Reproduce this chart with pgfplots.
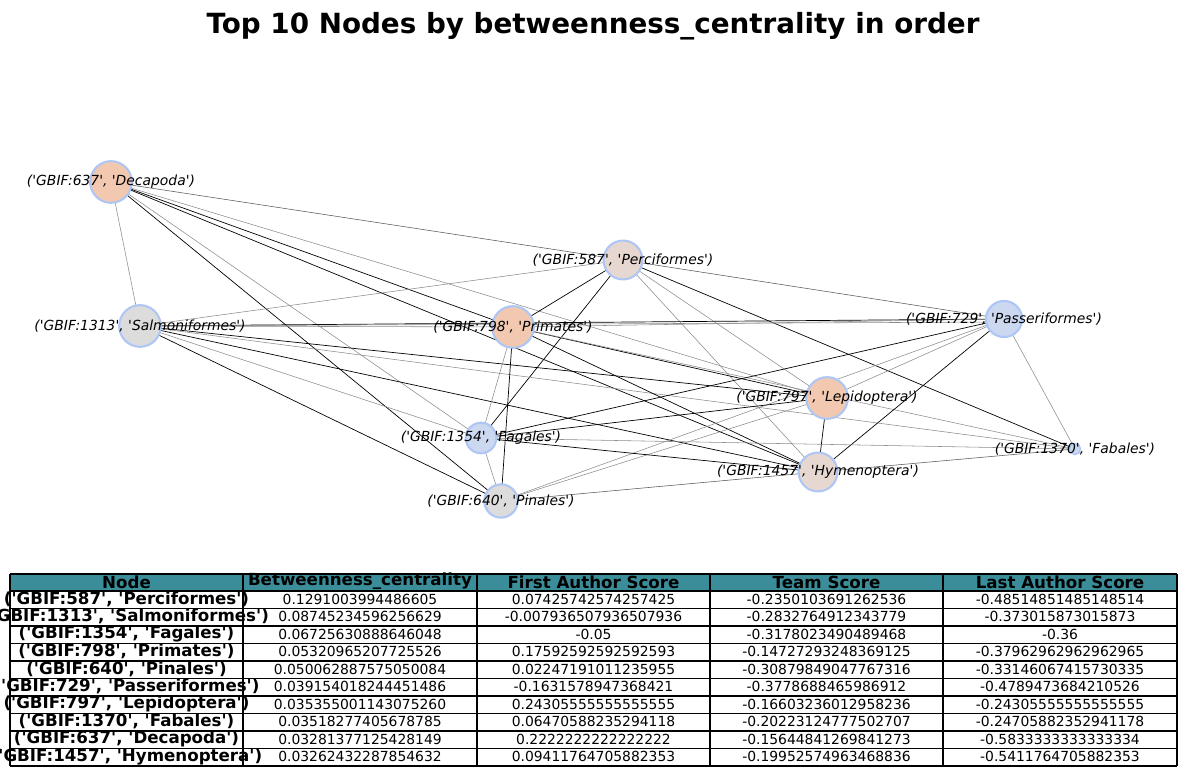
\documentclass[border=0pt]{standalone}
\usepackage{pgfplots}
\pgfplotsset{compat=1.18}
\usepackage{fontspec}
\setmainfont[Ligatures=TeXOff]{DejaVu Sans}
\definecolor{ring}{HTML}{AEC6F5}
\definecolor{corange}{HTML}{F2C9B0}
\definecolor{ctan}{HTML}{E6D8D0}
\definecolor{cgrey}{HTML}{DCDCDC}
\definecolor{cblue}{HTML}{CCD7F0}
\definecolor{hdr}{HTML}{3A8D99}
\begin{document}
\begin{tikzpicture}
\begin{axis}[scale only axis, width=853.92pt, height=558.72pt,
  xmin=0, xmax=1186, ymin=0, ymax=776, y dir=reverse, axis lines=none,
  clip=false, cycle list={{black!45, line width=0.5pt}}]
\coordinate (BL) at (axis cs:0,776);
\coordinate (TR) at (axis cs:1186,0);
% edges
\addplot[black!65] coordinates {(111,182)(623,260)};
\addplot[black!65] coordinates {(623,260)(1004,319)};
\addplot coordinates {(111,182)(140,326)};
\addplot coordinates {(111,182)(513,327)};
\addplot coordinates {(111,182)(827,398)};
\addplot coordinates {(111,182)(818,472)};
\addplot coordinates {(111,182)(481,438)};
\addplot coordinates {(111,182)(501,501)};
\addplot coordinates {(623,260)(140,326)};
\addplot coordinates {(623,260)(513,327)};
\addplot coordinates {(623,260)(827,398)};
\addplot coordinates {(623,260)(1075,449)};
\addplot coordinates {(623,260)(818,472)};
\addplot coordinates {(623,260)(481,438)};
\addplot coordinates {(140,326)(513,327)};
\addplot coordinates {(140,326)(1004,319)};
\addplot coordinates {(140,326)(1004,322)};
\addplot coordinates {(140,326)(827,398)};
\addplot coordinates {(140,326)(1075,449)};
\addplot coordinates {(140,326)(818,472)};
\addplot coordinates {(140,326)(481,438)};
\addplot coordinates {(140,326)(501,501)};
\addplot coordinates {(513,327)(1004,319)};
\addplot coordinates {(513,327)(827,398)};
\addplot coordinates {(513,327)(1075,449)};
\addplot coordinates {(513,327)(818,472)};
\addplot coordinates {(513,327)(481,438)};
\addplot coordinates {(513,327)(501,501)};
\addplot coordinates {(1004,319)(827,398)};
\addplot coordinates {(1004,319)(481,438)};
\addplot coordinates {(1004,319)(501,501)};
\addplot coordinates {(1004,319)(818,472)};
\addplot coordinates {(1004,319)(1075,449)};
\addplot coordinates {(827,398)(481,438)};
\addplot coordinates {(827,398)(501,501)};
\addplot coordinates {(827,398)(818,472)};
\addplot coordinates {(481,438)(1075,449)};
\addplot coordinates {(481,438)(818,472)};
\addplot coordinates {(481,438)(501,501)};
\addplot[black!65] coordinates {(501,501)(818,472)};
\addplot[black!65] coordinates {(818,472)(1075,449)};
% nodes
\addplot[only marks, mark=*, mark size=15pt, mark options={draw=ring, line width=1.5pt, fill=corange}] coordinates {(111,182)(513,327)(827,398)};
\addplot[only marks, mark=*, mark size=14pt, mark options={draw=ring, line width=1.5pt, fill=ctan}] coordinates {(623,260)(818,472)};
\addplot[only marks, mark=*, mark size=15pt, mark options={draw=ring, line width=1.5pt, fill=cgrey}] coordinates {(140,326)};
\addplot[only marks, mark=*, mark size=12pt, mark options={draw=ring, line width=1.5pt, fill=cgrey}] coordinates {(501,501)};
\addplot[only marks, mark=*, mark size=13pt, mark options={draw=ring, line width=1.5pt, fill=cblue}] coordinates {(1004,319)};
\addplot[only marks, mark=*, mark size=11pt, mark options={draw=ring, line width=1.5pt, fill=cblue}] coordinates {(481,438)};
\addplot[only marks, mark=*, mark size=4pt, mark options={draw=ring, line width=1pt, fill=cblue}] coordinates {(1075,449)};
\end{axis}
\useasboundingbox (BL) rectangle (TR);
\begin{scope}[shift={(0,558.72pt)}, x=0.72pt, y=-0.72pt]
\begin{scope}[every node/.style={font=\itshape\fontsize{10}{12}\selectfont, inner sep=0pt}]
\node at (111,182) {('GBIF:637', 'Decapoda')};
\node at (623,260) {('GBIF:587', 'Perciformes')};
\node at (140,326) {('GBIF:1313', 'Salmoniformes')};
\node at (513,327) {('GBIF:798', 'Primates')};
\node at (1004,319) {('GBIF:729', 'Passeriformes')};
\node at (827,398) {('GBIF:797', 'Lepidoptera')};
\node at (481,438) {('GBIF:1354', 'Fagales')};
\node at (1075,449) {('GBIF:1370', 'Fabales')};
\node at (818,472) {('GBIF:1457', 'Hymenoptera')};
\node at (501,501) {('GBIF:640', 'Pinales')};
\end{scope}
\node[font=\bfseries\fontsize{20}{24}\selectfont] at (593,26) {Top 10 Nodes by betweenness\_centrality in order};
\fill[hdr] (10,574) rectangle (1177,591);
\foreach \y in {574,591,608.5,626,643.5,661,678.5,696,713.5,731,748.5,766} \draw[line width=0.8pt] (10,\y) -- (1177,\y);
\foreach \x in {10,243,477,710,943,1177} \draw[line width=0.8pt] (\x,574) -- (\x,766);
\begin{scope}[every node/.style={font=\bfseries\fontsize{12}{14}\selectfont, inner sep=0pt}]
\node at (126.5,582) {Node};
\node at (360,581) {Betweenness\_centrality};
\node at (593.5,582) {First Author Score};
\node at (826.5,582) {Team Score};
\node at (1060,582) {Last Author Score};
\node at (126.5,599.25) {('GBIF:587', 'Perciformes')};
\node at (126.5,616.75) {('GBIF:1313', 'Salmoniformes')};
\node at (126.5,634.25) {('GBIF:1354', 'Fagales')};
\node at (126.5,651.75) {('GBIF:798', 'Primates')};
\node at (126.5,669.25) {('GBIF:640', 'Pinales')};
\node at (126.5,686.75) {('GBIF:729', 'Passeriformes')};
\node at (126.5,704.25) {('GBIF:797', 'Lepidoptera')};
\node at (126.5,721.75) {('GBIF:1370', 'Fabales')};
\node at (126.5,739.25) {('GBIF:637', 'Decapoda')};
\node at (126.5,756.75) {('GBIF:1457', 'Hymenoptera')};
\end{scope}
\begin{scope}[every node/.style={font=\fontsize{10}{12}\selectfont, inner sep=0pt}]
\node at (360,599.25) {0.1291003994486605};
\node at (593.5,599.25) {0.07425742574257425};
\node at (826.5,599.25) {-0.2350103691262536};
\node at (1060,599.25) {-0.48514851485148514};
\node at (360,616.75) {0.08745234596256629};
\node at (593.5,616.75) {-0.007936507936507936};
\node at (826.5,616.75) {-0.2832764912343779};
\node at (1060,616.75) {-0.373015873015873};
\node at (360,634.25) {0.06725630888646048};
\node at (593.5,634.25) {-0.05};
\node at (826.5,634.25) {-0.3178023490489468};
\node at (1060,634.25) {-0.36};
\node at (360,651.75) {0.05320965207725526};
\node at (593.5,651.75) {0.17592592592592593};
\node at (826.5,651.75) {-0.14727293248369125};
\node at (1060,651.75) {-0.37962962962962965};
\node at (360,669.25) {0.050062887575050084};
\node at (593.5,669.25) {0.02247191011235955};
\node at (826.5,669.25) {-0.30879849047767316};
\node at (1060,669.25) {-0.33146067415730335};
\node at (360,686.75) {0.039154018244451486};
\node at (593.5,686.75) {-0.1631578947368421};
\node at (826.5,686.75) {-0.3778688465986912};
\node at (1060,686.75) {-0.4789473684210526};
\node at (360,704.25) {0.035355001143075260};
\node at (593.5,704.25) {0.24305555555555555};
\node at (826.5,704.25) {-0.16603236012958236};
\node at (1060,704.25) {-0.24305555555555555};
\node at (360,721.75) {0.03518277405678785};
\node at (593.5,721.75) {0.06470588235294118};
\node at (826.5,721.75) {-0.20223124777502707};
\node at (1060,721.75) {-0.24705882352941178};
\node at (360,739.25) {0.03281377125428149};
\node at (593.5,739.25) {0.2222222222222222};
\node at (826.5,739.25) {-0.15644841269841273};
\node at (1060,739.25) {-0.5833333333333334};
\node at (360,756.75) {0.03262432287854632};
\node at (593.5,756.75) {0.09411764705882353};
\node at (826.5,756.75) {-0.19952574963468836};
\node at (1060,756.75) {-0.5411764705882353};
\end{scope}
\end{scope}
\end{tikzpicture}
\end{document}
